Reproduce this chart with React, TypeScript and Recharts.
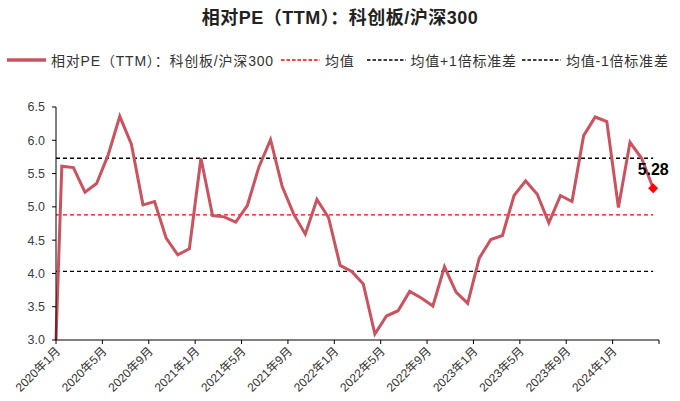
import { LineChart, Line, XAxis, YAxis, Legend } from "recharts"

// 相对PE（TTM）：科创板/沪深300，月度
const peValues = [
  3.0, 5.61, 5.59, 5.22, 5.35, 5.78, 6.36, 5.94, 5.03, 5.08, 4.53, 4.28, 4.37,
  5.73, 4.87, 4.85, 4.77, 5.02, 5.6, 6.01, 5.31, 4.89, 4.59, 5.11, 4.84,
  4.12, 4.03, 3.84, 3.09, 3.36, 3.44, 3.73, 3.63, 3.51, 4.1, 3.72, 3.55,
  4.23, 4.51, 4.57, 5.17, 5.39, 5.19, 4.76, 5.17, 5.08, 6.07, 6.35, 6.28,
  4.99, 5.97, 5.73, 5.28,
]

const meanValue = 4.88
const upperValue = 5.73
const lowerValue = 4.03

const tickLabels = [
  "2020年1月", "2020年5月", "2020年9月", "2021年1月", "2021年5月", "2021年9月",
  "2022年1月", "2022年5月", "2022年9月", "2023年1月", "2023年5月", "2023年9月",
  "2024年1月", "",
]

const yTicks = [3.0, 3.5, 4.0, 4.5, 5.0, 5.5, 6.0, 6.5]

const titleText = "相对PE（TTM）：科创板/沪深300"

const legendItems = [
  { name: "相对PE（TTM）：科创板/沪深300", color: "#C9535E", dashed: false, gap: 7 },
  { name: "均值", color: "#FF0000", dashed: true, gap: 12 },
  { name: "均值+1倍标准差", color: "#000000", dashed: true, gap: 5 },
  { name: "均值-1倍标准差", color: "#000000", dashed: true, gap: 0 },
]

// first point sits on the start of Jan 2020, the rest are mid-month
const data = peValues.map((pe, i) => ({
  month: i === 0 ? 0 : i - 0.5,
  pe,
  mean: meanValue,
  upper: upperValue,
  lower: lowerValue,
}))

const xTicks = tickLabels.map((_, i) => i * 4)

const font = '"Liberation Sans", Arial, "Noto Sans CJK SC", sans-serif'

function XTick(props: any) {
  const { x, y, payload } = props
  const label = tickLabels[Math.round(payload.value / 4)]
  const tx = x + 5
  const ty = y + 6
  return (
    <text
      x={tx}
      y={ty}
      transform={`rotate(-45, ${tx}, ${ty})`}
      textAnchor="end"
      fontSize={12}
      fill="#333"
      fontFamily={font}
    >
      {label}
    </text>
  )
}

function LastDot(props: any) {
  const { cx, cy, index } = props
  if (index !== peValues.length - 1) return <g key={index} />
  return (
    <g key={index}>
      <polygon
        points={`${cx},${cy - 5} ${cx + 5},${cy} ${cx},${cy + 5} ${cx - 5},${cy}`}
        fill="#FF0000"
      />
      <text
        x={cx}
        y={cy - 13}
        textAnchor="middle"
        fontSize={16}
        fontWeight="bold"
        fill="#000"
        fontFamily={font}
      >
        {peValues[index].toFixed(2)}
      </text>
    </g>
  )
}

function LegendBox() {
  return (
    <div
      style={{
        display: "flex",
        alignItems: "center",
        whiteSpace: "nowrap",
        fontSize: 14,
        letterSpacing: 0.8,
        color: "#333",
        fontFamily: font,
        paddingLeft: 7,
      }}
    >
      {legendItems.map((item, i) => (
        <div key={i} style={{ display: "flex", alignItems: "center", marginRight: item.gap }}>
          <svg width={39} height={10} style={{ marginRight: 5 }}>
            <line
              x1={0}
              y1={5}
              x2={39}
              y2={5}
              stroke={item.color}
              strokeWidth={item.dashed ? 1.5 : 3.5}
              strokeDasharray={item.dashed ? "3.5 2" : undefined}
            />
          </svg>
          <span>{item.name}</span>
        </div>
      ))}
    </div>
  )
}

export default function App() {
  return (
    <div
      style={{
        position: "absolute",
        left: 0,
        top: 0,
        width: 680,
        height: 401,
        background: "#fff",
        overflow: "hidden",
      }}
    >
      <div
        style={{
          position: "absolute",
          top: 3,
          left: 0,
          width: 680,
          textAlign: "center",
          fontFamily: font,
          fontWeight: "bold",
          fontSize: 18,
          letterSpacing: 0.5,
          color: "#222",
        }}
      >
        {titleText}
      </div>

      <LineChart
        width={680}
        height={401}
        data={data}
        margin={{ top: 107, right: 21, bottom: 0, left: 0 }}
      >
        <XAxis
          type="number"
          dataKey="month"
          domain={[0, 52]}
          ticks={xTicks}
          interval={0}
          tick={<XTick />}
          tickSize={4}
          axisLine={{ stroke: "#000" }}
          tickLine={{ stroke: "#000" }}
          height={61}
        />
        <YAxis
          type="number"
          domain={[3, 6.5]}
          ticks={yTicks}
          interval={0}
          width={56}
          tickSize={4}
          tickMargin={7}
          tickFormatter={(v: number) => v.toFixed(1)}
          tick={{ fontSize: 12.5, fill: "#404040", fontFamily: font }}
          axisLine={{ stroke: "#000" }}
          tickLine={{ stroke: "#000" }}
        />
        <Legend
          layout="horizontal"
          verticalAlign="middle"
          align="center"
          wrapperStyle={{ top: 50, left: 0, width: 680 }}
          content={<LegendBox />}
        />
        <Line
          dataKey="mean"
          stroke="#FF0000"
          strokeWidth={1.3}
          strokeDasharray="4 3"
          dot={false}
          isAnimationActive={false}
        />
        <Line
          dataKey="upper"
          stroke="#000"
          strokeWidth={1.3}
          strokeDasharray="4 3"
          dot={false}
          isAnimationActive={false}
        />
        <Line
          dataKey="lower"
          stroke="#000"
          strokeWidth={1.3}
          strokeDasharray="4 3"
          dot={false}
          isAnimationActive={false}
        />
        <Line
          dataKey="pe"
          stroke="#C9535E"
          strokeWidth={3}
          dot={<LastDot />}
          activeDot={false}
          isAnimationActive={false}
        />
      </LineChart>
    </div>
  )
}
